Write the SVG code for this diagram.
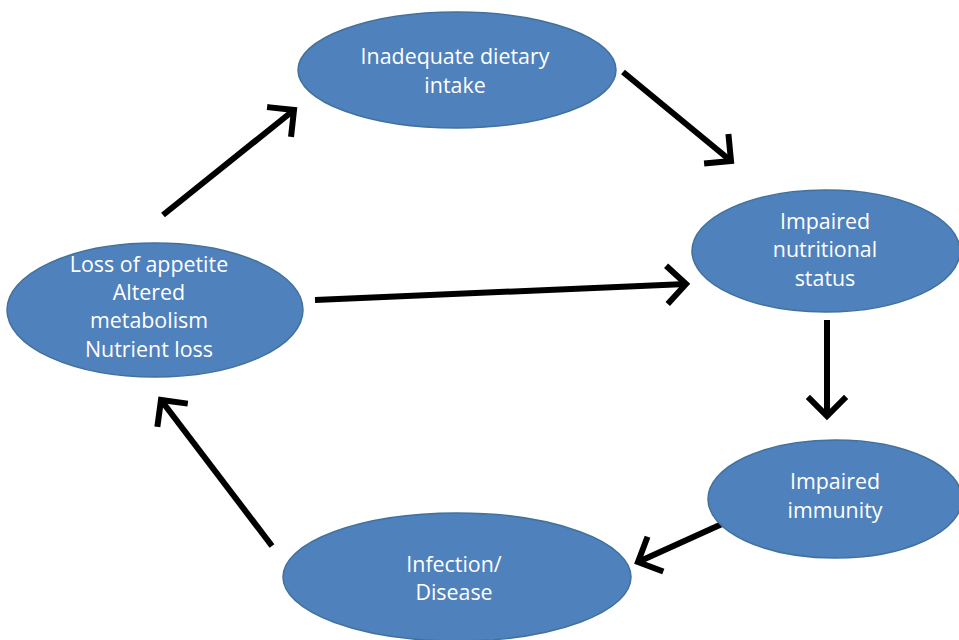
<svg xmlns="http://www.w3.org/2000/svg" width="959" height="640" viewBox="0 0 959 640">
<defs>
<style>
.node ellipse{fill:#4f81bd;stroke:#41719c;stroke-width:1.5}
.node text{fill:#fff;font-family:"Open Sans","Noto Sans","Liberation Sans",sans-serif;font-size:21.4px;text-anchor:middle}
.edge{stroke:#000;stroke-width:6;fill:none;marker-end:url(#arr)}
</style>
<marker id="arr" markerUnits="userSpaceOnUse" markerWidth="44" markerHeight="44" viewBox="0 0 44 44" refX="22" refY="22" orient="auto">
<path d="M5,5 L22,22 L5,39" fill="none" stroke="#000" stroke-width="6" stroke-linejoin="miter" stroke-linecap="square"/>
</marker>
</defs>
<rect width="959" height="640" fill="#fff"/>
<g id="connectors">
<line class="edge" x1="163" y1="215" x2="294" y2="110"/>
<line class="edge" x1="623" y1="72" x2="731" y2="161"/>
<line class="edge" x1="315" y1="300" x2="686" y2="284"/>
<line class="edge" x1="827" y1="320" x2="827" y2="416"/>
<line class="edge" x1="722" y1="524" x2="638" y2="562"/>
<line class="edge" x1="272" y1="546" x2="161" y2="400"/>
</g>
<g id="n-intake" class="node">
<ellipse cx="457" cy="70" rx="159" ry="58"/>
<text x="455" y="64">Inadequate dietary</text>
<text x="455" y="93">intake</text>
</g>
<g id="n-status" class="node">
<ellipse cx="826" cy="251" rx="134" ry="61"/>
<text x="825" y="229">Impaired</text>
<text x="825" y="257">nutritional</text>
<text x="825" y="286">status</text>
</g>
<g id="n-immunity" class="node">
<ellipse cx="835" cy="499" rx="127" ry="59"/>
<text x="835" y="489">Impaired</text>
<text x="835" y="518">immunity</text>
</g>
<g id="n-infection" class="node">
<ellipse cx="457" cy="577" rx="174" ry="64"/>
<text x="454" y="572">Infection/</text>
<text x="454" y="600">Disease</text>
</g>
<g id="n-appetite" class="node">
<ellipse cx="155" cy="310" rx="148" ry="67"/>
<text x="149" y="272">Loss of appetite</text>
<text x="149" y="300">Altered</text>
<text x="149" y="328">metabolism</text>
<text x="149" y="357">Nutrient loss</text>
</g>
</svg>
